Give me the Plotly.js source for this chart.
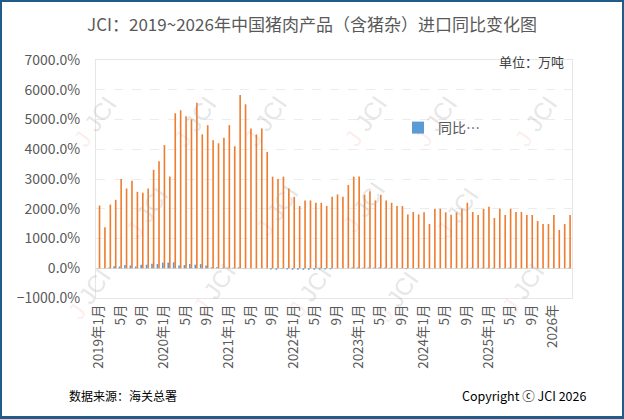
<!DOCTYPE html>
<html>
<head>
<meta charset="utf-8">
<script src="https://cdn.plot.ly/plotly-3.0.1.min.js"></script>
<style>
  html, body { margin: 0; padding: 0; background: #fff; }
  #chart { width: 624px; height: 419px; box-sizing: border-box; border: 2px solid #1f5c8a; border-bottom-width: 3px; }
</style>
</head>
<body>
<div id="chart"></div>
<script>
// months 2019-01 .. 2026-04
var months = [];
for (var y = 2019; y <= 2026; y++) {
    for (var m = 1; m <= 12; m++) {
        if (y == 2026 && m > 4) break;
        months.push(y + '-' + (m < 10 ? '0' + m : m));
    }
}

// import volume (shown on the % axis, x100)
var volume = [
    2110, 1375, 2140, 2300, 3000, 2680, 2940, 2570, 2540, 2680, 3310, 3600,
    4140, 3080, 5210, 5310, 5110, 5005, 5560, 4500, 4810, 4300, 4200, 4390,
    4810, 4100, 5820, 5510, 4700, 4500, 4700, 3910, 3080, 3000, 3080, 2680,
    2400, 2090, 2280, 2280, 2200, 2200, 2090, 2400, 2480, 2400, 2800, 3080,
    3080, 2470, 2590, 2280, 2470, 2280, 2200, 2090, 2090, 1810, 1890, 1810,
    1880, 1490, 2000, 2000, 1880, 1800, 1880, 2000, 2200, 1890, 1790, 2000,
    2070, 1690, 2000, 1790, 2000, 1890, 1890, 1790, 1790, 1590, 1490, 1490,
    1790, 1285, 1490, 1790
];

// year-on-year change, %
var yoy = [
    5, 3, 20, 70, 60, 110, 90, 60, 120, 120, 150, 140,
    190, 190, 200, 90, 110, 140, 120, 140, 90, 30, 30, 20,
    20, 20, 30, 5, 3, 2, 1, -5, -40, -50, -20, -40,
    -50, -50, -55, -50, -50, -45, -40, -35, -10, -5, 5, 25,
    25, 20, 25, 20, 25, 20, 15, 5, -5, -25, -5, -20,
    -5, 5, 3, 2, 3, 5, 3, 5, 15, 15, 5, 15,
    15, 15, 5, 5, 15, 15, 5, 3, 2, 3, 3, 2,
    3, 5, 3, 15
];

var tickVals = [], tickText = [];
for (var i = 0; i < months.length; i += 4) {
    var yy = months[i].slice(0, 4), mm = parseInt(months[i].slice(5), 10);
    tickVals.push(months[i]);
    if (yy == '2026') tickText.push('2026年');
    else tickText.push(mm == 1 ? yy + '年1月' : mm + '月');
}

var font = 'Noto Sans CJK SC, Noto Sans, sans-serif';

var traces = [
    {
        x: months, y: yoy, type: 'bar', name: '同比…',
        marker: { color: '#5b9bd5' }
    },
    {
        x: months, y: volume, type: 'bar', name: '进口量',
        showlegend: false,
        marker: { color: '#ed7d31' }
    }
];

// JCI watermark grid
var marks = [
    [65, 88], [165, 88], [265, 88], [365, 88], [465, 88], [565, 88],
    [117, 212], [247, 210], [363, 207], [487, 213],
    [60, 327], [185, 322], [310, 325], [427, 330], [553, 322]
];
var annos = marks.map(function (p) {
    return {
        xref: 'paper', yref: 'paper',
        x: (p[0] - 96) / 476, y: (298 - p[1]) / 238,
        text: '<span style="color:rgba(240,80,80,0.35)">J</span> JCI',
        showarrow: false, textangle: -55,
        font: { family: 'Liberation Sans, sans-serif', size: 24, color: 'rgba(170,170,170,0.3)' }
    };
});

annos.push({
    xref: 'paper', yref: 'paper', x: (566 - 96) / 476, y: (298 - 61) / 238,
    xanchor: 'right', yanchor: 'middle',
    text: '单位：万吨', showarrow: false,
    font: { family: font, size: 13, color: '#404040' }
});
annos.push({
    xref: 'paper', yref: 'paper', x: (67 - 96) / 476, y: (298 - 395) / 238,
    xanchor: 'left', yanchor: 'middle',
    text: '数据来源：海关总署', showarrow: false,
    font: { family: font, size: 12, color: '#000' }
});
annos.push({
    xref: 'paper', yref: 'paper', x: (588 - 96) / 476, y: (298 - 395) / 238,
    xanchor: 'right', yanchor: 'middle',
    text: 'Copyright ⓒ JCI 2026', showarrow: false,
    font: { family: font, size: 12.5, color: '#000' }
});

var layout = {
    width: 620, height: 414,
    margin: { l: 94, r: 50, t: 58, b: 118 },
    paper_bgcolor: '#fff', plot_bgcolor: '#fff',
    title: {
        text: 'JCI：2019~2026年中国猪肉产品（含猪杂）进口同比变化图',
        x: 0.5, xanchor: 'center', y: 0.945, yanchor: 'middle',
        font: { family: font, size: 17, color: '#595959' }
    },
    barmode: 'group', bargap: 0.4, bargroupgap: 0,
    showlegend: true,
    legend: {
        x: (398 - 96) / 476, y: (298 - 128) / 238, yanchor: 'middle',
        bgcolor: 'rgba(0,0,0,0)',
        font: { family: font, size: 14, color: '#595959' }
    },
    xaxis: {
        type: 'category',
        tickvals: tickVals, ticktext: tickText, tickangle: -90,
        tickfont: { family: font, size: 13.5, color: '#595959' },
        showgrid: false, ticks: '',
        showline: true, linecolor: '#e6e6e6', mirror: true
    },
    yaxis: {
        range: [-1000, 7000], dtick: 1000,
        tickformat: '.1f', ticksuffix: '%',
        tickfont: { family: font, size: 14, color: '#595959' },
        ticklabelstandoff: 12,
        gridcolor: '#ececec', griddash: 'dash',
        zeroline: true, zerolinecolor: '#dcdcdc',
        showline: true, linecolor: '#e6e6e6', mirror: true,
        ticks: ''
    },
    annotations: annos
};

Plotly.newPlot('chart', traces, layout, { displayModeBar: false, staticPlot: true });
</script>
</body>
</html>
